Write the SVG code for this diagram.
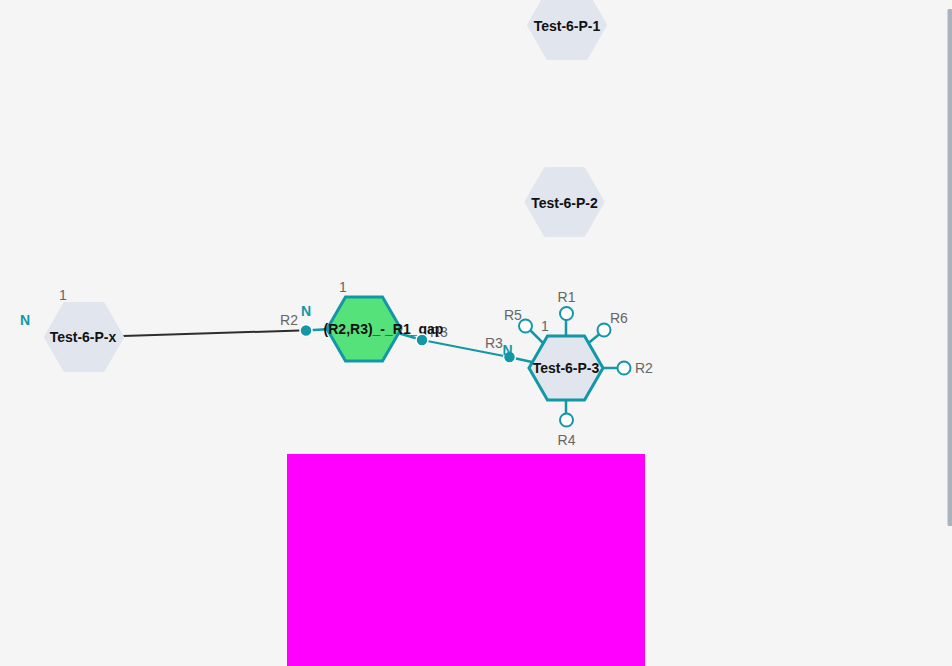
<svg xmlns="http://www.w3.org/2000/svg" width="952" height="666" viewBox="0 0 952 666">
  <style>
    .bg { fill: #f5f5f5; }
    .pale { fill: #e1e6ee; stroke: #e1e6ee; stroke-width: 4; stroke-linejoin: round; }
    .sel { stroke: #1397a6; stroke-width: 3; stroke-linejoin: miter; }
    .name { font-family: "Liberation Sans", Arial, sans-serif; font-weight: bold; font-size: 14px; fill: #111; text-anchor: middle; }
    .lbl { font-family: "Liberation Sans", Arial, sans-serif; font-size: 14px; fill: #666; }
    .nlbl { font-family: "Liberation Sans", Arial, sans-serif; font-weight: bold; font-size: 14px; fill: #1397a6; }
    .stub { stroke: #1397a6; stroke-width: 2.5; fill: none; }
    .open { fill: #ffffff; stroke: #1397a6; stroke-width: 2; }
    .used { fill: #1397a6; stroke: #ffffff; stroke-width: 1.5; }
    .link { stroke: #1397a6; stroke-width: 2; fill: none; }
  </style>
  <rect class="bg" x="0" y="0" width="952" height="666"/>

  <g id="connectors">
    <line x1="123" y1="336" x2="300" y2="330.5" stroke="#2d2d2d" stroke-width="2"/>
    <line class="link" x1="422" y1="340" x2="509" y2="357"/>
  </g>

  <g id="node-P-1">
    <polygon class="pale" points="529,25 548,-7.9 586,-7.9 605,25 586,57.9 548,57.9"/>
    <text class="name" x="567" y="31">Test-6-P-1</text>
  </g>

  <g id="node-P-2">
    <polygon class="pale" points="526.5,202 545.5,169.1 583.5,169.1 602.5,202 583.5,234.9 545.5,234.9"/>
    <text class="name" x="564.5" y="208">Test-6-P-2</text>
  </g>

  <g id="node-P-x">
    <polygon class="pale" points="46,337 65,304.1 103,304.1 122,337 103,369.9 65,369.9"/>
    <text class="name" x="83" y="342">Test-6-P-x</text>
    <text class="lbl" x="63" y="300" text-anchor="middle">1</text>
    <text class="nlbl" x="25" y="325" text-anchor="middle">N</text>
  </g>

  <g id="node-gap">
    <line class="stub" x1="306" y1="330.5" x2="330" y2="329"/>
    <line class="stub" x1="398" y1="333" x2="422" y2="340"/>
    <polygon class="sel" fill="#56e27b" points="327,329 345.5,297 382.5,297 401,329 382.5,361 345.5,361"/>
    <text class="lbl" x="343" y="292" text-anchor="middle">1</text>
    <text class="lbl" x="289" y="325" text-anchor="middle">R2</text>
    <text class="nlbl" x="306" y="316" text-anchor="middle">N</text>
    <text class="lbl" x="430" y="337">R3</text>
    <circle class="used" cx="306" cy="330.5" r="6"/>
    <text class="name" x="383.5" y="334">(R2,R3)_-_R1_gap</text>
    <circle class="used" cx="422" cy="340" r="6"/>
  </g>

  <g id="node-P-3">
    <line class="stub" x1="566" y1="338" x2="566" y2="320"/>
    <line class="stub" x1="586" y1="345" x2="599" y2="334.5"/>
    <line class="stub" x1="545" y1="345" x2="530.5" y2="330.5"/>
    <line class="stub" x1="600" y1="368" x2="617.5" y2="368"/>
    <line class="stub" x1="566" y1="398" x2="566" y2="413"/>
    <line class="stub" x1="509" y1="357" x2="532" y2="362"/>
    <polygon class="sel" fill="#e1e6ee" points="529,368 547.5,336 584.5,336 603,368 584.5,400 547.5,400"/>
    <circle class="open" cx="566.5" cy="313.5" r="6.5"/>
    <circle class="open" cx="604" cy="330" r="6.5"/>
    <circle class="open" cx="525.5" cy="326" r="6.5"/>
    <circle class="open" cx="624" cy="368" r="6.5"/>
    <circle class="open" cx="566.5" cy="420" r="6.5"/>
    <circle class="used" cx="509.5" cy="357" r="6"/>
    <text class="lbl" x="566.5" y="302" text-anchor="middle">R1</text>
    <text class="lbl" x="610" y="323">R6</text>
    <text class="lbl" x="504" y="320">R5</text>
    <text class="lbl" x="545" y="331" text-anchor="middle">1</text>
    <text class="lbl" x="635" y="373">R2</text>
    <text class="lbl" x="566.5" y="445" text-anchor="middle">R4</text>
    <text class="lbl" x="485" y="348">R3</text>
    <text class="nlbl" x="507.5" y="355" text-anchor="middle">N</text>
    <text class="name" x="566" y="373">Test-6-P-3</text>
  </g>

  <rect id="magenta-box" x="287" y="454" width="358" height="212" fill="#ff00ff"/>
  <rect id="scrollbar" x="947.5" y="9" width="5" height="517" rx="1.5" fill="#a8b3bd"/>
</svg>
